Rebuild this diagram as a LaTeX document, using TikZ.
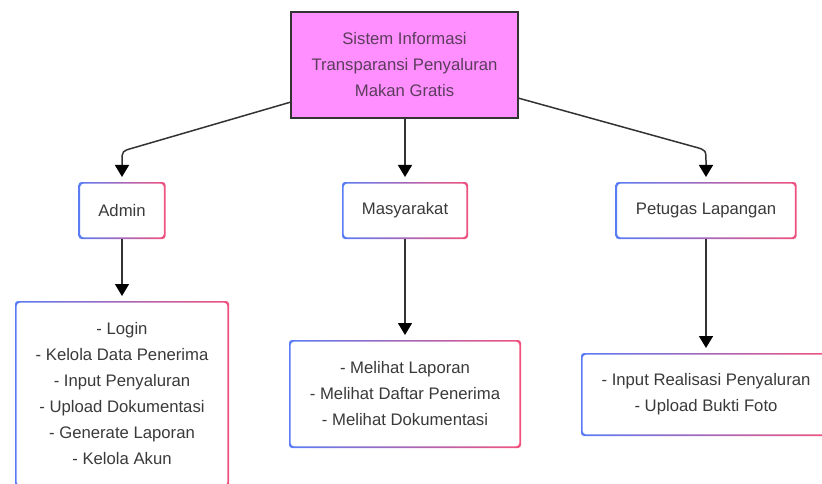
\documentclass[tikz,border=0pt]{standalone}
\usepackage{fontspec}
\setmainfont{Liberation Sans}
\usetikzlibrary{arrows.meta,calc}
\definecolor{gblue}{HTML}{5A7CF5}
\definecolor{gpink}{HTML}{F0527E}
\definecolor{topfill}{HTML}{FF8EFF}
\definecolor{dark}{HTML}{333333}
\definecolor{toptext}{HTML}{5C3D5C}
\definecolor{boxtext}{HTML}{3A3A3A}
\tikzset{
  lbl/.style={align=center, font=\fontsize{16.7}{26}\selectfont, text=boxtext, outer sep=0pt, inner sep=0pt},
  topbox/.style={lbl, draw=dark, line width=2.6pt, fill=topfill, text=toptext},
  gbox/.style={lbl, fill=white},
  conn/.style={draw=dark, line width=1.5pt, -{Triangle[width=14pt,length=12pt,color=black]}, shorten >=5pt},
}
\newcommand{\gborder}[1]{%
  \shade[left color=gblue, right color=gpink, even odd rule, rounded corners=3pt]
    (#1.south west) rectangle (#1.north east)
    ($(#1.south west)+(1.7pt,1.7pt)$) rectangle ($(#1.north east)+(-1.7pt,-1.7pt)$);}
\begin{document}
\begin{tikzpicture}[x=1pt,y=-1pt]
\useasboundingbox (0,0) rectangle (822,484);
\clip (0,0) rectangle (822,484);
\fill[white] (0,0) rectangle (822,484);

\node[topbox, minimum width=227pt, minimum height=106pt] (top) at (404.5,65)
  {Sistem Informasi\\Transparansi Penyaluran\\Makan Gratis};

\node[gbox, minimum width=87pt, minimum height=57pt] (adm) at (122,210.5) {Admin};
\node[gbox, minimum width=126pt, minimum height=57pt] (mas) at (405,210.5) {Masyarakat};
\node[gbox, minimum width=181pt, minimum height=57pt] (pet) at (706,210.5) {Petugas Lapangan};

\node[gbox, minimum width=214pt, minimum height=186pt] (admL) at (122,394)
  {- Login\\- Kelola Data Penerima\\- Input Penyaluran\\- Upload Dokumentasi\\- Generate Laporan\\- Kelola Akun};
\node[gbox, minimum width=232pt, minimum height=108pt] (masL) at (405,394)
  {- Melihat Laporan\\- Melihat Daftar Penerima\\- Melihat Dokumentasi};
\node[gbox, minimum width=250pt, minimum height=83pt] (petL) at (706,394.5)
  {- Input Realisasi Penyaluran\\- Upload Bukti Foto};

\gborder{adm}
\gborder{mas}
\gborder{pet}
\gborder{admL}
\gborder{masL}
\gborder{petL}

\draw[conn] ([yshift=16pt]top.south west) -- (133,148) .. controls (122,151) .. (122,162) -- (adm.north);
\draw[conn] (top.south -| mas.north) -- (mas.north);
\draw[conn] ([yshift=20pt]top.south east) -- (695,147) .. controls (706,150) .. (706,162) -- (pet.north);

\draw[conn] (adm.south) -- (admL.north);
\draw[conn] (mas.south) -- (masL.north);
\draw[conn] (pet.south) -- (petL.north);
\end{tikzpicture}
\end{document}
